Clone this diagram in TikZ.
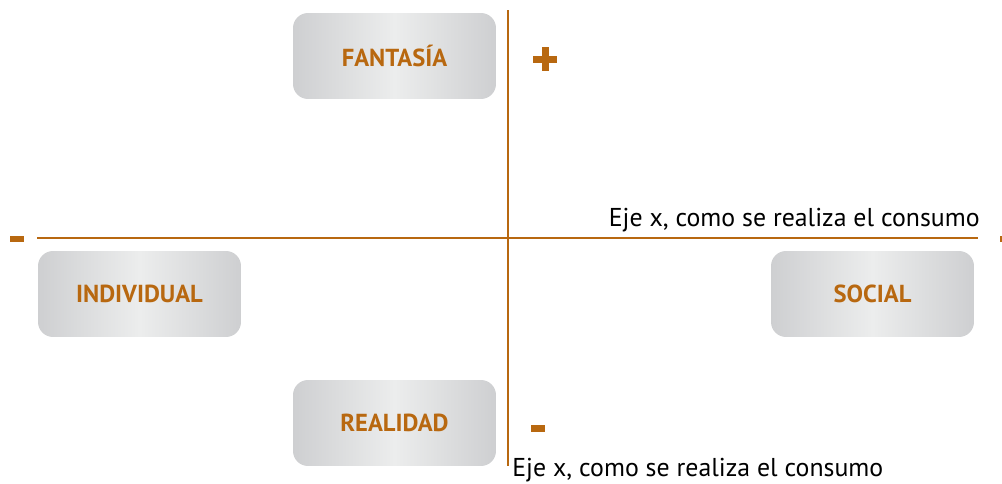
\documentclass[tikz,border=0pt]{standalone}
\usepackage{fontspec}
\setmainfont{PT Sans}
\usepackage{tikz}
\usetikzlibrary{positioning}
\definecolor{brown}{RGB}{184,104,16}
\definecolor{boxedge}{RGB}{206,207,209}
\definecolor{boxmid}{RGB}{236,237,237}

\begin{document}
\begin{tikzpicture}[x=0.02cm, y=-0.02cm]
  \useasboundingbox (0,0) rectangle (1002,484);
  \tikzset{BoxStyle/.style   = {shape          = rectangle,
                                rounded corners = 0.3cm,
                                left color     = boxedge,
                                right color    = boxedge,
                                middle color   = boxmid,
                                text           = brown,
                                font           = \fontsize{14}{16}\selectfont\bfseries,
                                minimum width  = 4.06cm,
                                minimum height = 1.72cm}}
  \tikzset{AxisStyle/.style  = {draw = brown,
                                line width = 1.7pt}}
  \tikzset{SignStyle/.style  = {fill = brown}}
  \tikzset{LabelStyle/.style = {text = black,
                                font = \fontsize{14.7}{17}\selectfont,
                                inner sep = 0pt}}
     \node[BoxStyle] (fantasia)   at (394.5,56)  {FANTASÍA};
     \node[BoxStyle] (individual) at (139.5,294) {INDIVIDUAL};
     \node[BoxStyle] (social)     at (872.5,294) {SOCIAL};
     \node[BoxStyle] (realidad)   at (394.5,423) {REALIDAD};

     \coordinate (top)    at (508,10);
     \coordinate (bottom) at (508,466);
     \coordinate (left)   at (37,238);
     \coordinate (right)  at (978,238);
     \draw[AxisStyle] (top) -- (bottom);
     \draw[AxisStyle] (left) -- (right);

%    signs
     \fill[SignStyle] (533,55.5) rectangle (557,62.5);
     \fill[SignStyle] (541.5,47) rectangle (548.5,71);
     \fill[SignStyle] (10,236) rectangle (24,242);
     \fill[SignStyle] (1000,236) rectangle (1002,242);
     \fill[SignStyle] (531,425) rectangle (545,432);

     \node[LabelStyle, anchor = base east] (xlabel)  at (980,226) {Eje x, como se realiza el consumo};
     \node[LabelStyle, anchor = base west] (ylabel)  at (512,476) {Eje x, como se realiza el consumo};
\end{tikzpicture}
\end{document}
